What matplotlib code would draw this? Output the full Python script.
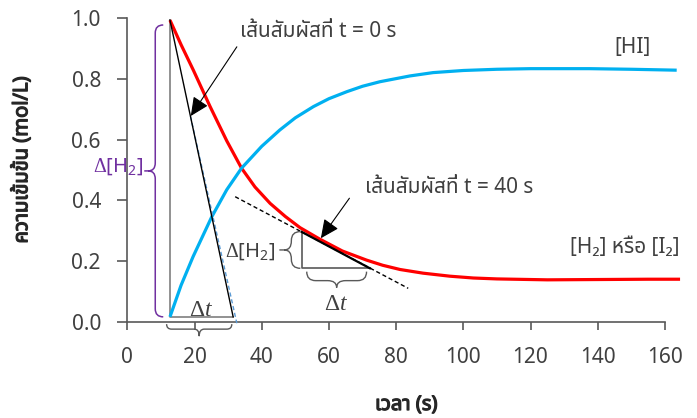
import numpy as np
import matplotlib
matplotlib.use("Agg")
import matplotlib.pyplot as plt
import matplotlib.patheffects as pe
from matplotlib import font_manager
from matplotlib.ft2font import FT2Font
from matplotlib.path import Path
from matplotlib.patches import PathPatch

# ===============================
# Data: time (s) and concentration (mol/L)
# ===============================
t_h2 = [12.7, 16, 19.7, 24.6, 29.6, 34.0, 38, 42.5, 47, 51.4, 57.3, 64,
        71.2, 76, 81.2, 88, 96, 103, 110, 125, 140, 155, 164.5]
c_h2 = [0.994, 0.913, 0.828, 0.710, 0.596, 0.506, 0.444, 0.390, 0.347, 0.310,
        0.272, 0.233, 0.203, 0.186, 0.172, 0.160, 0.150, 0.144, 0.141, 0.138,
        0.139, 0.140, 0.140]

t_hi = [12.7, 16, 19.6, 25.1, 29.6, 34.0, 40, 45.4, 50, 55.4, 60, 65.3, 70,
        75.2, 84.1, 91, 100, 110, 120, 137.6, 150, 163.5]
c_hi = [0.016, 0.120, 0.215, 0.345, 0.435, 0.506, 0.578, 0.632, 0.672, 0.709,
        0.735, 0.758, 0.776, 0.791, 0.810, 0.821, 0.828, 0.832, 0.834, 0.834,
        0.832, 0.829]

# tangent at the start (triangle) and at t = 40 s
tri0_t = [12.7, 12.7, 31.5, 12.7]
tri0_c = [0.994, 0.016, 0.016, 0.994]
tan0_dash_t = [18.8, 32.6]
tan0_dash_c = [0.677, -0.005]

tan40_t = [32.1, 83.6]
tan40_c = [0.412, 0.110]
tri40_t = [51.9, 51.9, 72.2]
tri40_c = [0.296, 0.176, 0.176]

xticks = [0, 20, 40, 60, 80, 100, 120, 140, 160]
yticks = [0.0, 0.2, 0.4, 0.6, 0.8, 1.0]


# ===============================
# Fonts (Thai text needs a font with Thai glyphs)
# ===============================
def find_thai_family():
    preferred = ["Noto Sans Thai", "Noto Sans Thai UI", "Noto Sans Thai Looped",
                 "Sarabun", "Loma", "Garuda", "Tlwg Typo", "Umpush", "Kinnari",
                 "Norasi", "FreeSans", "Noto Serif Thai"]
    found = {}
    for f in font_manager.fontManager.ttflist:
        if f.name in found:
            continue
        try:
            cmap = FT2Font(f.fname).get_charmap()
        except Exception:
            continue
        if 0x0E2A in cmap and 0x0E49 in cmap:
            found[f.name] = f.fname
    for name in preferred:
        if name in found:
            return name
    return next(iter(found), None)


thai = find_thai_family()
families = ["Noto Sans"] + ([thai] if thai else []) + ["DejaVu Sans"]
plt.rcParams["font.family"] = families
plt.rcParams["mathtext.fontset"] = "custom"
plt.rcParams["mathtext.rm"] = "Liberation Serif"
plt.rcParams["mathtext.it"] = "Liberation Serif:italic"
plt.rcParams["mathtext.sf"] = "Noto Sans"

RED = "#FF0000"
BLUE = "#00B0F0"
PURPLE = "#7030A0"
AXIS = "#595959"
TEXT = "#404040"
bold = [pe.withStroke(linewidth=0.9, foreground="#262626")]

# ===============================
# Plot
# ===============================
W, H = 697, 418
fig = plt.figure(figsize=(W / 100, H / 100), dpi=100)
ax = fig.add_axes([127.3 / W, 96.3 / H, 557.8 / W, 303.4 / H])
ax.set_xlim(0, 166)
ax.set_ylim(0, 1.0)

ax.plot(t_h2, c_h2, color=RED, lw=2.3, clip_on=False, zorder=3,
        solid_capstyle="butt")
ax.plot(t_hi, c_hi, color=BLUE, lw=2.3, clip_on=False, zorder=3,
        solid_capstyle="butt")

# triangle for the initial tangent
ax.plot(tri0_t[:3], tri0_c[:3], color="#7f7f7f", lw=1.2, zorder=2, clip_on=False)
ax.plot(tri0_t[2:], tri0_c[2:], color="black", lw=1.0, zorder=4, clip_on=False)
ax.plot(tan0_dash_t, tan0_dash_c, color="#5B9BD5", lw=1.0, ls=(0, (3, 2)),
        zorder=3.5, clip_on=False)

# tangent at t = 40 s
ax.plot(tan40_t, tan40_c, color="black", lw=1.0, ls=(0, (3, 2)), zorder=4)
ax.plot([tri40_t[0], tri40_t[2]], [tri40_c[0], tri40_c[2]], color="black",
        lw=1.6, zorder=4)
ax.plot(tri40_t, tri40_c, color="#595959", lw=1.2, zorder=2)


def brace(p0, p1, normal, inner, tip, stub=0.0, color="#595959", lw=1.0):
    """Curly brace between two data points, bulging along `normal` (pixels)."""
    a = ax.transData.transform(p0)
    b = ax.transData.transform(p1)
    L = np.hypot(*(b - a))
    u = (b - a) / L
    n = np.asarray(normal, float)
    r = min(inner, L / 4)

    def P(s, o):
        return a + u * s + n * o

    verts = [P(0, 0), P(0, inner), P(r, inner),
             P(L / 2 - r, inner),
             P(L / 2, inner), P(L / 2, tip),
             P(L / 2, inner), P(L / 2 + r, inner),
             P(L - r, inner),
             P(L, inner), P(L, 0)]
    codes = [Path.MOVETO, Path.CURVE3, Path.CURVE3, Path.LINETO,
             Path.CURVE3, Path.CURVE3, Path.CURVE3, Path.CURVE3,
             Path.LINETO, Path.CURVE3, Path.CURVE3]
    if stub:
        verts += [P(L / 2, tip), P(L / 2, tip + stub)]
        codes += [Path.MOVETO, Path.LINETO]
    verts = ax.transData.inverted().transform(np.array(verts))
    ax.add_patch(PathPatch(Path(verts, codes), fill=False, edgecolor=color,
                           lw=lw, clip_on=False, zorder=5))


brace((10.7, 0.978), (10.7, 0.016), (-1, 0), 8, 15, stub=4, color=PURPLE, lw=1.1)
brace((51.5, 0.297), (51.5, 0.176), (-1, 0), 9, 16, stub=5)
brace((11.7, -0.008), (31.1, -0.008), (0, -1), 5, 12)
brace((53.4, 0.165), (71.2, 0.165), (0, -1), 9, 16)

# labels on the plot
ax.text(4.6, 0.494, r"$\Delta$[H$_\mathsf{2}$]", color=PURPLE, fontsize=14.5,
        ha="right", va="baseline")
ax.text(44.0, 0.214, r"$\Delta$[H$_\mathsf{2}$]", color=TEXT, fontsize=14.5,
        ha="right", va="baseline")
ax.text(21.9, 0.019, r"$\Delta t$", color=TEXT, fontsize=17, ha="center",
        va="baseline")
ax.text(62.0, 0.039, r"$\Delta t$", color=TEXT, fontsize=17, ha="center",
        va="baseline", clip_on=False)

ax.text(145.1, 0.887, "[HI]", color=TEXT, fontsize=15, va="baseline")
ax.text(131.7, 0.225, "[H₂] หรือ [I₂]", color=TEXT, fontsize=15,
        va="baseline")

arrow = dict(arrowstyle="-|>,head_length=0.6,head_width=0.28", color="black",
             lw=0.8, mutation_scale=19, shrinkA=0, shrinkB=0)
note = dict(fontsize=15, color=TEXT, va="baseline", ha="left")
ax.text(33.5, 0.939, "เส้นสัมผัสที่ t = 0 s", **note)
ax.annotate("", xy=(18.9, 0.678), xytext=(32.6, 0.906), arrowprops=arrow)
ax.text(70.7, 0.423, "เส้นสัมผัสที่ t = 40 s", **note)
ax.annotate("", xy=(57.6, 0.275), xytext=(66.1, 0.407), arrowprops=arrow)

# ===============================
# Axes styling
# ===============================
for side in ["top", "right"]:
    ax.spines[side].set_visible(False)
for side in ["left", "bottom"]:
    ax.spines[side].set_color(AXIS)
    ax.spines[side].set_linewidth(1.2)
ax.spines["bottom"].set_bounds(0, 160)

ax.set_xticks(xticks)
ax.set_yticks(yticks)
ax.set_yticklabels([f"{v:.1f}" for v in yticks])
ax.tick_params(axis="both", direction="out", color=AXIS, width=1.2,
               labelsize=15, labelcolor=TEXT)
ax.tick_params(axis="x", length=6, pad=12)
ax.tick_params(axis="y", length=7, pad=12)

xl = ax.set_xlabel("เวลา (s)", fontsize=14.5, color="#262626", va="center")
ax.xaxis.set_label_coords(0.5, (321.7 - 405) / 303.4)
yl = ax.set_ylabel("ความเข้มข้น (mol/L)", fontsize=14.5, color="#262626",
                   va="center")
ax.yaxis.set_label_coords((22 - 127.3) / 557.8, (321.7 - 160) / 303.4)
xl.set_path_effects(bold)
yl.set_path_effects(bold)

fig.savefig("out.png", dpi=100)
